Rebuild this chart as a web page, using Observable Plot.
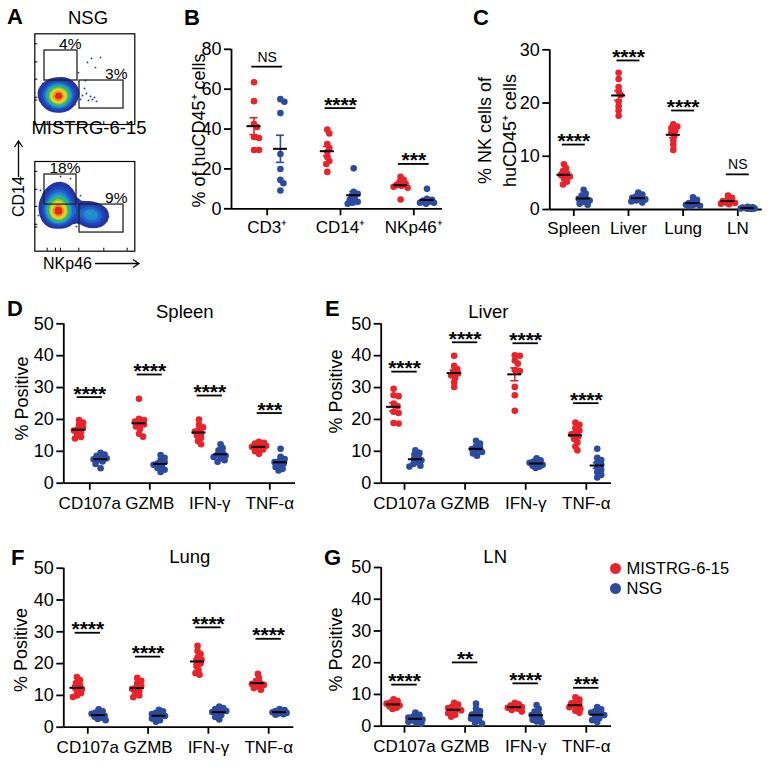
<!DOCTYPE html>
<html><head><meta charset="utf-8">
<script src="https://cdn.jsdelivr.net/npm/d3@7"></script>
<script src="https://cdn.jsdelivr.net/npm/@observablehq/plot@0.6"></script>
<style>
html,body{margin:0;padding:0;background:#fff;}
#fig{position:relative;width:777px;height:772px;overflow:hidden;font-family:"Liberation Sans",Arial,Helvetica,sans-serif;color:#000;background:#fff;}
#fig svg{position:absolute;}
</style></head><body><div id="fig"></div>
<script>
// ---------------- DATA ----------------
const groups = ["MISTRG-6-15", "NSG"];

// Panel B
const bCats = ["CD3⁺", "CD14⁺", "NKp46⁺"];
const bMistrg = [[63.5,54,42.5,41,36,35.5,29.5,29.5],[39.7,37.8,32.5,30.5,28.5,26,24,22.5,18.5],[16,14.5,13.5,12.5,12,11.5,11,10.5,4.7]];
const bNsg = [[55,53.7,48,27.5,20,14.5,12.8,9.2],[20.3,8.5,7.5,6.5,5,4.5,3.5,3,2.5],[10,5,4.5,4,3.5,3,3,2.5]];
const bSig = ["NS","****","***"];
const bSigY = [71.3, 50.5, 22.5];
const bTicks = [0,20,40,60,80];

// Panel C
const cCats = ["Spleen","Liver","Lung","LN"];
const cMistrg = [[8.5,7.8,7.2,6.8,6.5,6.2,5.8,5.2,4.7],[25.7,24.5,23,22.2,21.5,20.3,19.4,18.6,17.6],[16,15.6,15.3,14.8,14.4,13.8,13,12.2,11.2],[2.6,2.2,1.8,1.6,1.4,1.3,1.2,1.1,1.0]];
const cNsg = [[3.7,3,2.6,2.2,2,1.7,1.4,1.1,0.9],[3.2,2.8,2.5,2.2,2,1.9,1.7,1.5,1.3],[2.3,1.8,1.5,1.2,1,0.9,0.8,0.7,0.6],[0.5,0.4,0.35,0.3,0.25,0.2,0.2,0.15,0.1]];
const cSig = ["****","****","****","NS"];
const cSigY = [12.2, 28, 18.6, 6.6];
const cTicks = [0,10,20,30];

// Panels D-G
const cytoCats = ["CD107a","GZMB","IFN-γ","TNF-α"];
const cytoTicks = [0,10,20,30,40,50];
const dMistrg = [[19.8,19,18.3,17.5,17,16.5,16,15.2,14.5,14],[26.5,20.2,19.8,19.3,18.8,18.4,17.8,17,15.5,14.6],[20,18.3,17.5,16.8,16.2,15.6,15,14.2,13.2,12.2],[13,12.7,12.4,12,11.7,11.4,11,10.6,10,9.2]];
const dNsg = [[9.5,9,8.6,8.2,7.8,7.5,7.2,6.8,6,4.7],[8.8,8,7.2,6.6,6.2,5.8,5.3,4.8,4.2,3.5],[12.2,11,10.3,9.6,9,8.6,8.2,7.8,7.2,6.7],[10.8,8.3,7.6,7,6.6,6.1,5.6,5.1,4.5,4]];
const dSig = ["****","****","****","***"];
const dSigY = [27, 34.1, 27.5, 22];

const eMistrg = [[29.6,27.6,27.3,25,24.1,22.4,22,18.9,18.7],[40,36.8,35.8,35,34.5,33.8,33,31.7,30.2],[40.1,40,38.5,37.5,35.5,35.2,30.2,27.6,22.7],[19,18.3,17.2,16.5,15.8,15.3,14.7,13.8,12.8,11.5,10.3]];
const eNsg = [[10.3,9.5,9,8.2,7.6,7.2,6.6,6,5.5,5.2],[13.3,12.4,11.6,11,10.7,10.3,9.8,9.3,8.6],[7.8,7.2,6.8,6.4,6.1,5.8,5.5,5.2,4.8],[10.8,8,7.3,6.5,5.8,5,4.2,3.5,2.6,1.8]];
const eSig = ["****","****","****","****"];
const eSigY = [35, 44.2, 43.9, 25.1];

const fMistrg = [[15.8,14.8,13.9,13.2,12.6,12,11.4,10.7,10,9.5],[15.5,14.6,13.8,13,12.5,12,11.4,10.6,10,9.4],[25.6,24,23,22,21.3,20.7,20,19.2,18,17,16.5],[16.8,15.5,14.5,14,13.6,13.3,12.8,12.3,11.8]];
const fNsg = [[5.6,5,4.6,4.2,3.9,3.6,3.3,3,2.6,2.2],[5.5,5,4.5,4.1,3.8,3.5,3.1,2.7,2.2,1.7],[6.5,6,5.7,5.4,5.1,4.8,4.4,3.8,3.2,2.4],[5.7,5.4,5.1,4.9,4.7,4.5,4.3,4.1,3.9]];
const fSig = ["****","****","****","****"];
const fSigY = [29.7, 22.2, 31.4, 27.8];

const gMistrg = [[8.5,7.9,7.5,7.1,6.8,6.5,6.2,5.8,5.4],[7.4,6.8,6.2,5.7,5.3,5,4.6,4.1,3.6,3],[7.4,6.9,6.5,6.2,6,5.8,5.5,5.1,4.6],[9.1,8.4,7.7,7.2,6.8,6.4,6,5.5,4.9,4.2]];
const gNsg = [[4.3,3.6,3.1,2.7,2.4,2.1,1.8,1.4,1,0.8],[7.1,5.6,4.8,4.2,3.7,3.3,2.9,2.4,1.8,1.2,0.8],[6.7,5.5,4.6,4,3.5,3,2.5,2,1.5,1.2],[6,5.3,4.8,4.3,3.9,3.5,3,2.5,1.9,1.3]];
const gSig = ["****","**","****","***"];
const gSigY = [13.1, 20.1, 13.5, 12.1];

// Panel A (flow plots, axis units 0-100): populations [x, y, weight], sparse events [x, y], gates [x1, x2, y1, y2, label]
const nsgPop = [[24,31,10],[20,33,6],[28,33,6],[22,27,5],[29,28,4],[17,29,4],[24,38,4],[15,36,2],[32,37,2],[12,30,1.5],[35,30,1.5],[20,44,1.5],[28,45,1],[10,40,1],[38,40,1],[25,24,2],[40,33,0.8],[8,34,0.8],[33,46,0.8]];
const nsgSparse = [[49.7,39.7],[51.7,34.2],[53.7,26.5],[55.7,30.9],[57.7,27.6],[59.7,29.8],[61.7,25.4],[47.7,32],[45.7,27.6],[52.7,68.4],[56.7,72.8],[60.7,62.8],[65.7,73.9],[43.7,57.3],[50.7,48.5],[8,45],[40,22],[15,20]];
const nsgGates = [[9.7,42.7,48.5,81.6,"4%"],[44.7,88.7,17.6,48.5,"3%"]];
const mistrgPop = [[24,45,10],[20,47,6],[28,44,6],[22,40,5],[30,40,3],[16,42,3],[20,55,4],[28,56,4],[24,62,3],[16,64,2],[32,64,2],[22,70,1.5],[30,72,1],[12,52,2],[36,52,2],[26,34,2],[14,34,1],[56,41,4],[50,40,3],[62,40,3],[66,38,2],[47,44,2],[58,36,2],[53,46,2],[68,43,1]];
const mistrgSparse = [[45.7,62],[65.7,50.9],[69.7,43.1],[73.7,38.7],[41.7,27.5],[50.7,29.8],[60.7,27.5],[5.7,67.7],[35.7,81],[25.7,83.3],[67.7,35.3],[3.7,39.8]];
const mistrgGates = [[9.7,41.7,52,85.5,"18%"],[44.7,88.7,20.8,52,"9%"]];
const flowTicksY = [27,30,50,69,89];
const flowTicksX = [12.4,20.7,25.7,44,69,92.4];

// ---------------- STYLE / LAYOUT ----------------
const RED = "#e8242a", BLUE = "#2c4b9f";
const FONT = '"Liberation Sans", Arial, Helvetica, sans-serif';
const FLOWCOLORS = ["#2434a2","#2434a2","#2050c8","#1f7fd6","#1fb0b8","#3bb84a","#b5d52b","#f5dc2a","#f59a24","#e3271f"];
const fig = document.getElementById("fig");

function place(svg, left, top) {
  svg.style.position = "absolute";
  svg.style.left = left + "px";
  svg.style.top = top + "px";
  fig.appendChild(svg);
}

// horizontal spreading of overlapping points (GraphPad-like), in pixels
function dodgeOffsets(vals, pxPerUnit, minD, maxW) {
  const order = d3.range(vals.length).sort((a, b) => vals[b] - vals[a]);
  const placed = [], offs = [];
  for (const k of order) {
    const y = vals[k] * pxPerUnit;
    let best = 0, bestD = -1;
    for (let j = 0; j <= 2 * maxW; j++) {
      const o = (j % 2 ? 1 : -1) * Math.ceil(j / 2);
      const dmin = placed.length ? d3.min(placed, p => Math.hypot(p.o - o, p.y - y)) : Infinity;
      if (dmin >= minD) { best = o; break; }
      if (dmin > bestD) { bestD = dmin; best = o; }
    }
    offs[k] = best; placed.push({o: best, y});
  }
  return offs;
}

function dotPanel(L, cats, red, blue, sig, sigY, yMax, yTicks, ylabel, title) {
  const ml = L.X0 - L.left, mr = L.left + L.W - L.X1, mt = L.Y0 - L.top, mb = L.top + L.H - L.Y1;
  const d0 = (L.X0 - L.t0) / L.step, d1 = (L.X1 - L.t0) / L.step;
  const pxY = (L.Y1 - L.Y0) / yMax;
  const u = px => px / L.step;
  const pts = [], stats = [];
  cats.forEach((c, i) => {
    [red[i], blue[i]].forEach((vals, g) => {
      const cx = i + (g ? 0.18 : -0.18);
      const offs = dodgeOffsets(vals, pxY, 4.2, 7);
      vals.forEach((v, k) => pts.push({x: cx + u(offs[k]), y: v, g: groups[g]}));
      const m = d3.mean(vals), se = d3.deviation(vals) / Math.sqrt(vals.length);
      stats.push({cx, m, lo: m - se, hi: m + se, g: groups[g]});
    });
  });
  const caps = stats.flatMap(s => [{...s, yy: s.lo}, {...s, yy: s.hi}]);
  const sigs = sig.map((s, i) => ({i, s, y: sigY[i]}));
  const fx = px => px - L.X0, fy = py => py - L.Y0;
  const marks = [
    Plot.ruleY([0], {y: d => d, strokeWidth: 1.8}),
    Plot.ruleX([d0], {x: d => d, strokeWidth: 1.8}),
    Plot.axisY({ticks: yTicks, tickSize: 7, tickPadding: 3, fontSize: 18, strokeWidth: 1.8, label: null}),
    Plot.axisX({ticks: d3.range(cats.length), tickFormat: i => cats[i], tickSize: 7, tickPadding: L.tp, fontSize: 17, strokeWidth: 1.8, label: null}),
    Plot.dot(pts, {x: d => d.x, y: d => d.y, r: 3.3, fill: d => d.g}),
    Plot.ruleX(stats, {x: d => d.cx, y1: d => d.lo, y2: d => d.hi, stroke: d => d.g, strokeWidth: 1.6}),
    Plot.ruleY(caps, {y: d => d.yy, x1: d => d.cx - u(4), x2: d => d.cx + u(4), stroke: d => d.g, strokeWidth: 1.6}),
    Plot.ruleY(stats, {y: d => d.m, x1: d => d.cx - u(7), x2: d => d.cx + u(7), stroke: "black", strokeWidth: 2}),
    Plot.ruleY(sigs, {y: d => d.y, x1: d => d.i - 0.21, x2: d => d.i + 0.21, strokeWidth: 1.8}),
    Plot.text(sigs.filter(d => d.s !== "NS"), {x: d => d.i, y: d => d.y, text: d => d.s, fontSize: 21, fontWeight: "bold", lineAnchor: "bottom", dy: 3.5}),
    Plot.text(sigs.filter(d => d.s === "NS"), {x: d => d.i, y: d => d.y, text: d => d.s, fontSize: 14, lineAnchor: "bottom", dy: -5}),
    Plot.text([ylabel], {text: d => d, frameAnchor: "top-left", dx: fx(L.ylab[0]), dy: fy(L.ylab[1]), rotate: -90, fontSize: 18, lineHeight: 1.4, lineAnchor: "middle", textAnchor: "middle"})
  ];
  if (title) marks.push(Plot.text([title], {text: d => d, frameAnchor: "top-left", dx: fx(L.title[0]), dy: fy(L.title[1]), fontSize: 18.5, lineAnchor: "middle", textAnchor: "middle"}));
  const svg = Plot.plot({
    width: L.W, height: L.H, marginLeft: ml, marginRight: mr, marginTop: mt, marginBottom: mb,
    x: {domain: [d0, d1], label: null}, y: {domain: [0, yMax], label: null},
    color: {domain: groups, range: [RED, BLUE]},
    style: {fontFamily: FONT, fontSize: "18px", background: "transparent", overflow: "visible"},
    marks
  });
  place(svg, L.left, L.top);
}

function flowPanel(L, pop, sparse, gates) {
  const ml = L.X0 - L.left, mr = L.left + L.W - L.X1, mt = L.Y0 - L.top, mb = L.top + L.H - L.Y1;
  const fw = L.X1 - L.X0, fh = L.Y1 - L.Y0;
  const marks = [];
  if (Plot.density) marks.push(Plot.density(pop, {x: d => d[0], y: d => d[1], weight: d => d[2], bandwidth: 5, thresholds: 12, fill: "density", clip: true}));
  else marks.push(Plot.dot(pop, {x: d => d[0], y: d => d[1], r: d => 2 + d[2] * 0.6, fill: d => d[2]}));
  marks.push(
    Plot.dot(sparse, {x: d => d[0], y: d => d[1], r: 0.9, fill: "#2434a2"}),
    Plot.rect(gates, {x1: d => d[0], x2: d => d[1], y1: d => d[2], y2: d => d[3], fill: "none", stroke: "#222", strokeWidth: 1.3}),
    Plot.text(gates, {x: d => d[1], y: d => d[3], text: d => d[4], textAnchor: "end", lineAnchor: "bottom", dx: 4, dy: -1.5, fontSize: 15.5}),
    Plot.tickY(flowTicksY, {y: d => d, insetRight: fw - 3, strokeWidth: 1}),
    Plot.tickX(flowTicksX, {x: d => d, insetTop: fh - 3, strokeWidth: 1}),
    Plot.frame({strokeWidth: 1.2})
  );
  const svg = Plot.plot({
    width: L.W, height: L.H, marginLeft: ml, marginRight: mr, marginTop: mt, marginBottom: mb,
    x: {domain: [0, 100], axis: null}, y: {domain: [0, 100], axis: null},
    color: {type: "linear", interpolate: d3.piecewise(d3.interpolateRgb, FLOWCOLORS)},
    style: {fontFamily: FONT, fontSize: "16px", background: "transparent", overflow: "visible"},
    marks
  });
  place(svg, L.left, L.top);
}

// ---------------- DRAW ----------------
flowPanel({left: 0, top: 0, W: 150, H: 140, X0: 34.3, X1: 134.3, Y0: 33.3, Y1: 124}, nsgPop, nsgSparse, nsgGates);
flowPanel({left: 0, top: 140, W: 150, H: 125, X0: 34.3, X1: 134.3, Y0: 161, Y1: 250.7}, mistrgPop, mistrgSparse, mistrgGates);

dotPanel({left: 150, top: 0, W: 300, H: 250, X0: 231, X1: 442, Y0: 48.8, Y1: 208.3, t0: 266.7, step: 73.3, tp: 5, ylab: [196, 130]},
  bCats, bMistrg, bNsg, bSig, bSigY, 80, bTicks, "% of huCD45⁺ cells", null);
dotPanel({left: 455, top: 0, W: 322, H: 250, X0: 549.3, X1: 761.7, Y0: 49.3, Y1: 209, t0: 573.3, step: 54.67, tp: 5, ylab: [495, 130]},
  cCats, cMistrg, cNsg, cSig, cSigY, 30, cTicks, "% NK cells of\nhuCD45⁺ cells", null);
dotPanel({left: 0, top: 290, W: 318, H: 232, X0: 63.3, X1: 295, Y0: 323.3, Y1: 482.7, t0: 89.3, step: 60, tp: 7, ylab: [19.5, 398], title: [184.3, 311.7]},
  cytoCats, dMistrg, dNsg, dSig, dSigY, 50, cytoTicks, "% Positive", "Spleen");
dotPanel({left: 318, top: 290, W: 320, H: 232, X0: 380.7, X1: 611, Y0: 323.3, Y1: 482.7, t0: 404, step: 60.6, tp: 7, ylab: [333, 391], title: [487.8, 311.7]},
  cytoCats, eMistrg, eNsg, eSig, eSigY, 50, cytoTicks, "% Positive", "Liver");
dotPanel({left: 0, top: 530, W: 318, H: 242, X0: 63.3, X1: 293.3, Y0: 567.7, Y1: 726.7, t0: 87.3, step: 60.3, tp: 7, ylab: [18, 649.5], title: [189.3, 556.7]},
  cytoCats, fMistrg, fNsg, fSig, fSigY, 50, cytoTicks, "% Positive", "Lung");
dotPanel({left: 318, top: 530, W: 320, H: 242, X0: 380.7, X1: 611, Y0: 567, Y1: 725.7, t0: 404, step: 60.6, tp: 7, ylab: [333, 649], title: [494.7, 556.7]},
  cytoCats, gMistrg, gNsg, gSig, gSigY, 50, cytoTicks, "% Positive", "LN");

// Legend
const legend = Plot.plot({
  width: 170, height: 45, margin: 0,
  x: {domain: [0, 1], axis: null},
  y: {type: "point", domain: groups, range: [12.7, 32.7], padding: 0, axis: null},
  color: {domain: groups, range: [RED, BLUE]},
  style: {fontFamily: FONT, background: "transparent", overflow: "visible"},
  marks: [
    Plot.dot(groups, {y: d => d, frameAnchor: "left", dx: 10, r: 5.5, fill: d => d}),
    Plot.text(groups, {y: d => d, text: d => d, frameAnchor: "left", dx: 21, textAnchor: "start", fontSize: 16.5, lineAnchor: "middle"})
  ]
});
place(legend, 605, 555);

// Panel letters, panel A titles and axis labels
const overlay = `<svg xmlns="http://www.w3.org/2000/svg" width="777" height="772" style="left:0;top:0;pointer-events:none;font-family:${FONT.replace(/"/g, "'")}">
<g font-weight="bold" font-size="22">
<text x="7" y="24">A</text><text x="184" y="25">B</text><text x="473" y="25">C</text>
<text x="7" y="316">D</text><text x="325" y="316">E</text><text x="11" y="565">F</text><text x="324" y="565">G</text>
</g>
<g font-size="18.5" text-anchor="middle"><text x="88" y="24">NSG</text><text x="89" y="133.5">MISTRG-6-15</text></g>
<text font-size="16" transform="translate(24,217) rotate(-90)">CD14</text>
<path d="M18.5 177 V141 M14.5 147 L18.5 141 L22.5 147" fill="none" stroke="#000" stroke-width="1.3"/>
<text font-size="16" x="43" y="269">NKp46</text>
<path d="M95 263.5 H139 M133 259.5 L139 263.5 L133 267.5" fill="none" stroke="#000" stroke-width="1.3"/>
</svg>`;
fig.insertAdjacentHTML("beforeend", overlay);
</script></body></html>
